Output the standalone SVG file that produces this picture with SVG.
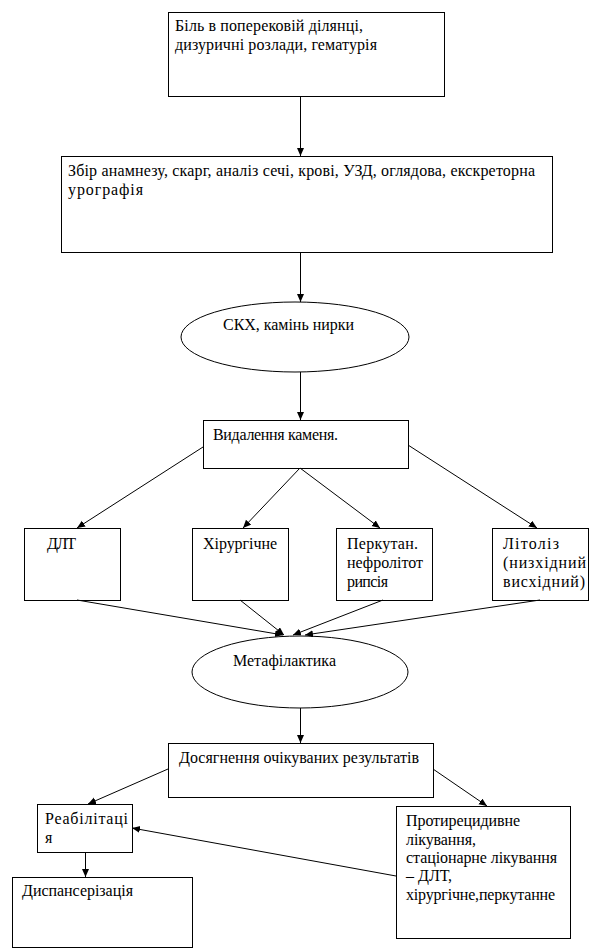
<svg xmlns="http://www.w3.org/2000/svg" width="613" height="949" viewBox="0 0 613 949">
<style>
.n{fill:#fff;stroke:#000;stroke-width:1}
text{font-family:"Liberation Serif","DejaVu Serif",serif;font-size:16px;fill:#000}
.c line{stroke:#000;stroke-width:1;marker-end:url(#a)}
</style>
<defs>
<marker id="a" markerUnits="userSpaceOnUse" markerWidth="9" markerHeight="8" refX="8" refY="3.5" orient="auto">
<path d="M0,0 L8,3.5 L0,7 z" fill="#000"/>
</marker>
</defs>
<rect width="613" height="949" fill="#fff"/>
<g id="n1"><rect class="n" x="168.5" y="12.5" width="276" height="84"/>
<text x="175" y="31" textLength="188" lengthAdjust="spacing">Біль в поперековій ділянці,</text>
<text x="175" y="50" textLength="202" lengthAdjust="spacing">дизуричні розлади, гематурія</text></g>
<g id="n2"><rect class="n" x="61.5" y="156.5" width="491" height="96"/>
<text x="68" y="176" textLength="467" lengthAdjust="spacing">Збір анамнезу, скарг, аналіз сечі, крові, УЗД, оглядова, екскреторна</text>
<text x="68" y="195" textLength="75" lengthAdjust="spacing">урографія</text></g>
<g id="n3"><ellipse class="n" cx="295" cy="337" rx="114" ry="35"/>
<text x="223" y="330" textLength="131" lengthAdjust="spacing">СКХ, камінь нирки</text></g>
<g id="n4"><rect class="n" x="203.5" y="420.5" width="205" height="48"/>
<text x="213" y="440" textLength="125" lengthAdjust="spacing">Видалення каменя.</text></g>
<g id="n5"><rect class="n" x="24.5" y="528.5" width="96" height="72"/>
<text x="47" y="549" textLength="29" lengthAdjust="spacing">ДЛТ</text></g>
<g id="n6"><rect class="n" x="192.5" y="528.5" width="96" height="72"/>
<text x="203" y="549" textLength="74" lengthAdjust="spacing">Хірургічне</text></g>
<g id="n7"><rect class="n" x="336.5" y="528.5" width="96" height="72"/>
<text x="347" y="549" textLength="71" lengthAdjust="spacing">Перкутан.</text>
<text x="347" y="568" textLength="76" lengthAdjust="spacing">нефролітот</text>
<text x="347" y="587" textLength="41" lengthAdjust="spacing">рипсія</text></g>
<g id="n8"><rect class="n" x="492.5" y="528.5" width="96" height="72"/>
<text x="503" y="549" textLength="56" lengthAdjust="spacing">Літоліз</text>
<text x="503" y="568" textLength="83" lengthAdjust="spacing">(низхідний</text>
<text x="503" y="587" textLength="82" lengthAdjust="spacing">висхідний)</text></g>
<g id="n9"><ellipse class="n" cx="300" cy="672" rx="108" ry="36"/>
<text x="233" y="666" textLength="103" lengthAdjust="spacing">Метафілактика</text></g>
<g id="n10"><rect class="n" x="168.5" y="743.5" width="265" height="54"/>
<text x="179" y="763" textLength="240" lengthAdjust="spacing">Досягнення очікуваних результатів</text></g>
<g id="n11"><rect class="n" x="37.5" y="804.5" width="95" height="48"/>
<text x="45" y="824" textLength="83" lengthAdjust="spacing">Реабілітаці</text>
<text x="45" y="843">я</text></g>
<g id="n12"><rect class="n" x="12.5" y="877.5" width="180" height="70"/>
<text x="22" y="896" textLength="111" lengthAdjust="spacing">Диспансерізація</text></g>
<g id="n13"><rect class="n" x="396.5" y="806.5" width="174" height="132"/>
<text x="406" y="826" textLength="114" lengthAdjust="spacing">Протирецидивне</text>
<text x="406" y="845" textLength="70" lengthAdjust="spacing">лікування,</text>
<text x="406" y="863" textLength="151" lengthAdjust="spacing">стаціонарне лікування</text>
<text x="406" y="881" textLength="46" lengthAdjust="spacing">– ДЛТ,</text>
<text x="406" y="900" textLength="149" lengthAdjust="spacing">хірургічне,перкутанне</text></g>
<g class="c" id="connectors">
<line x1="300.5" y1="96" x2="300.5" y2="156"/>
<line x1="300.5" y1="252" x2="300.5" y2="302"/>
<line x1="300.5" y1="372" x2="300.5" y2="420"/>
<line x1="203" y1="447" x2="77" y2="528"/>
<line x1="300" y1="468" x2="243" y2="528"/>
<line x1="300" y1="468" x2="380" y2="528"/>
<line x1="408" y1="445" x2="537" y2="528"/>
<line x1="77" y1="600" x2="283" y2="635"/>
<line x1="240" y1="600" x2="284" y2="635"/>
<line x1="383" y1="600" x2="293" y2="635"/>
<line x1="540" y1="600" x2="305" y2="635"/>
<line x1="300.5" y1="708" x2="300.5" y2="743"/>
<line x1="168" y1="769" x2="88" y2="804"/>
<line x1="433" y1="769" x2="487" y2="806"/>
<line x1="85.5" y1="852" x2="85.5" y2="877"/>
<line x1="396" y1="876" x2="132" y2="828"/>
</g>
</svg>
